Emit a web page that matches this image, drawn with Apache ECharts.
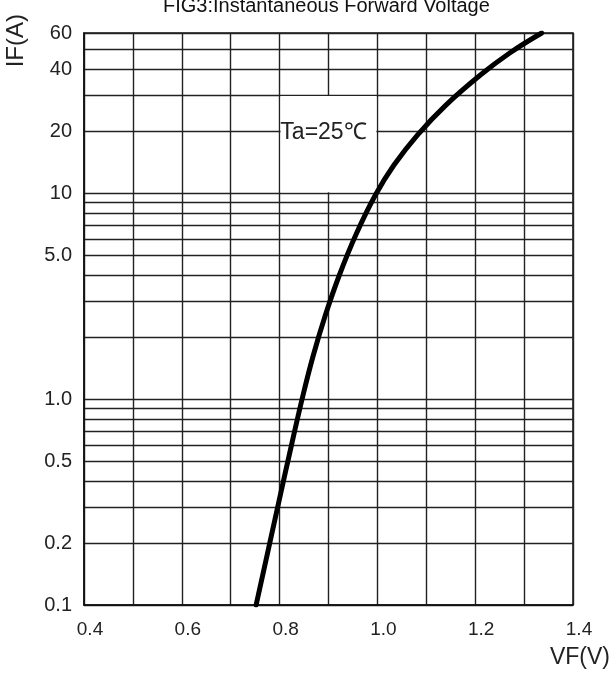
<!DOCTYPE html>
<html><head><meta charset="utf-8">
<script src="https://cdn.jsdelivr.net/npm/echarts@6/dist/echarts.min.js"></script>
<style>html,body{margin:0;padding:0;background:#fff}#c{width:612px;height:673px}</style>
</head><body><div id="c"></div>
<script>
// Forward voltage VF (V) and forward current IF (A)
const vfValues = [0.752,0.7745,0.797,0.8243,0.848,0.8691,0.8937,0.9223,0.9558,0.9959,1.0339,1.0818,1.1401,1.2106,1.2706,1.336];
const ifValues = [0.1,0.175,0.306,0.598,1.047,1.637,2.562,4.007,6.27,9.80,13.71,19.17,26.8,37.5,48.0,60];
const xLabelValues = [0.4,0.6,0.8,1.0,1.2,1.4];
const yGridValues = [0.1,0.2,0.3,0.4,0.5,0.6,0.7,0.8,0.9,1,2,3,4,5,6,7,8,9,10,20,30,40,50,60];
const yLabelValues = [0.1,0.2,0.5,1,5,10,20,40,60];
const yLabelTexts = ['0.1','0.2','0.5','1.0','5.0','10','20','40','60'];
const titleText = 'FIG3:Instantaneous Forward Voltage';
const noteText = 'Ta=25\u2103';
const noteBox = {x0: 0.8, x1: 1.0, y0: 30, y1: 10};

const FONT = '"Liberation Sans", Arial, sans-serif';
const chart = echarts.init(document.getElementById('c'), null, {renderer: 'canvas'});
const seriesData = vfValues.map((v, i) => [v, ifValues[i]]);
chart.setOption({
  animation: false,
  backgroundColor: '#fff',
  title: {
    text: titleText, left: 163, top: -4,
    textStyle: {fontFamily: FONT, fontSize: 20, fontWeight: 'normal', color: '#111'},
    padding: 0
  },
  grid: {left: 84, right: 39, top: 33, bottom: 68, show: true, borderColor: '#111', borderWidth: 1.5, containLabel: false},
  xAxis: {
    type: 'value', min: 0.4, max: 1.4, interval: 0.1,
    axisLine: {show: true, lineStyle: {color: '#111', width: 1.5}},
    axisTick: {show: false},
    splitLine: {show: true, lineStyle: {color: '#222', width: 1.4}},
    axisLabel: {
      margin: 15, fontFamily: FONT, fontSize: 19, color: '#222', padding: [0, 0, 0, 12],
      formatter: v => xLabelValues.some(t => Math.abs(t - v) < 1e-6) ? v.toFixed(1) : ''
    }
  },
  yAxis: {
    type: 'log', logBase: 10, min: 0.1, max: 60,
    axisLine: {show: true, lineStyle: {color: '#111', width: 1.5}},
    axisTick: {show: false, customValues: yGridValues},
    splitLine: {show: true, lineStyle: {color: '#222', width: 1.4}},
    axisLabel: {
      customValues: yLabelValues,
      margin: 12, fontFamily: FONT, fontSize: 20, color: '#222', padding: [6, 0, 0, 0],
      formatter: v => {
        const i = yLabelValues.findIndex(t => Math.abs(t - v) / t < 1e-6);
        return i >= 0 ? yLabelTexts[i] : '';
      }
    }
  },
  series: [{
    type: 'line', data: seriesData, smooth: 0.4, showSymbol: false,
    lineStyle: {color: '#000', width: 5, cap: 'round'}, z: 5
  }]
});
const p0 = chart.convertToPixel({gridIndex: 0}, [noteBox.x0, noteBox.y0]);
const p1 = chart.convertToPixel({gridIndex: 0}, [noteBox.x1, noteBox.y1]);
chart.setOption({
  graphic: [
    {type: 'rect', shape: {x: p0[0] + 1, y: p0[1] + 1, width: p1[0] - p0[0] - 2, height: p1[1] - p0[1] - 2}, style: {fill: '#fff'}, z: 3, silent: true},
    {type: 'text', x: (p0[0] + p1[0]) / 2 - 5, y: p0[1] + 38, z: 4, style: {text: noteText, font: '23px ' + FONT, fill: '#222', textAlign: 'center', textVerticalAlign: 'middle'}},
    {type: 'text', left: 4, top: 14, rotation: Math.PI / 2, z: 4, style: {text: 'IF(A)', font: '24px ' + FONT, fill: '#222'}},
    {type: 'text', right: 2, top: 646, z: 4, style: {text: 'VF(V)', font: '23px ' + FONT, fill: '#222'}}
  ]
});
</script></body></html>
